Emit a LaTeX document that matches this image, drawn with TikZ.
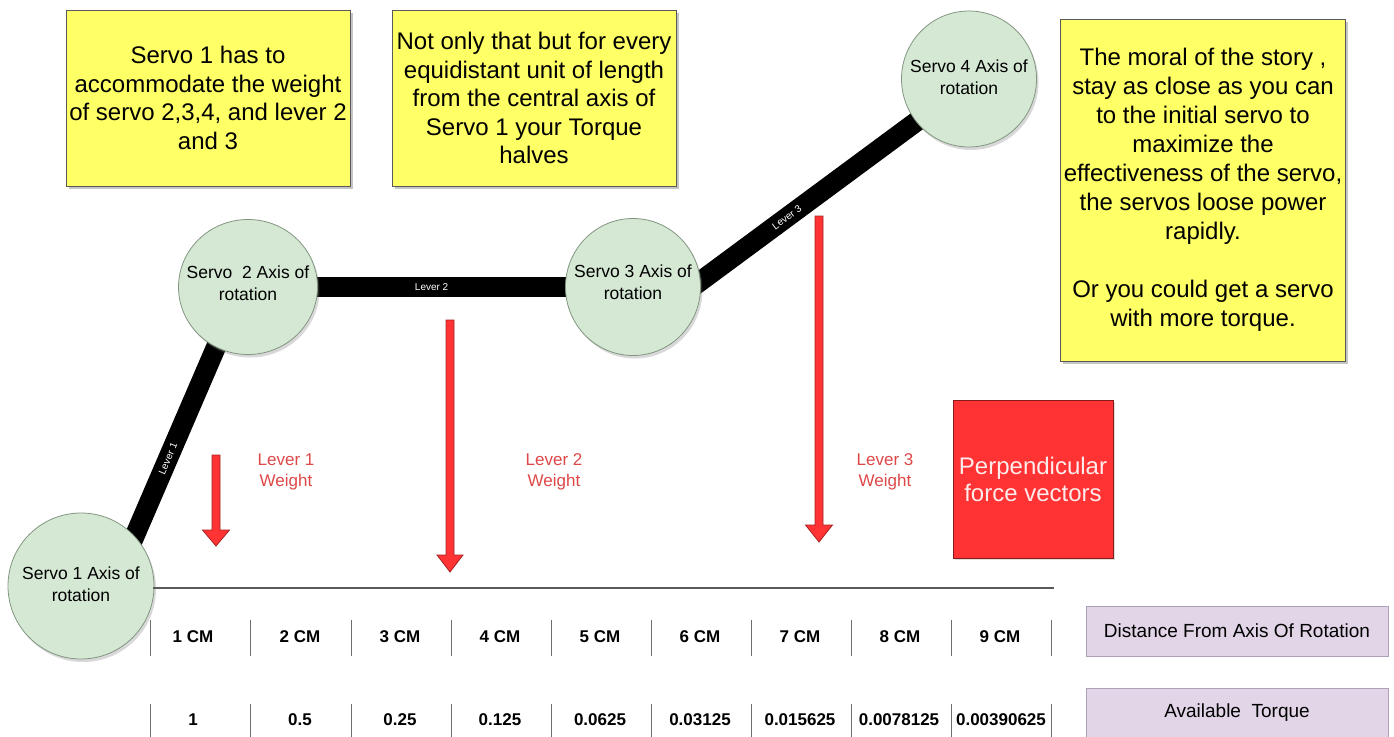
\documentclass[tikz,border=0pt]{standalone}
\usepackage{fontspec}
\setmainfont{Liberation Sans}
\usetikzlibrary{shapes.geometric,shadows}
\pgfdeclarelayer{bg}
\pgfsetlayers{bg,main}
\definecolor{notefill}{RGB}{255,255,102}
\definecolor{servofill}{RGB}{213,232,212}
\definecolor{servoedge}{RGB}{130,150,130}
\definecolor{vecfill}{RGB}{255,51,51}
\definecolor{vecedge}{RGB}{165,35,35}
\definecolor{lbltext}{RGB}{222,72,72}
\definecolor{tagfill}{RGB}{225,213,231}
\definecolor{tagedge}{RGB}{175,160,185}
\definecolor{septext}{RGB}{110,110,110}
\begin{document}
\begin{tikzpicture}[x=1pt,y=-1pt,
  notebox/.style={draw=black!65, fill=notefill, align=center, inner sep=0pt,
    font=\fontsize{24}{28.5}\selectfont,
    drop shadow={shadow xshift=2.5pt, shadow yshift=-2.5pt, opacity=0.45}},
  servo/.style={ellipse, draw=servoedge, line width=0.8pt, fill=servofill, inner sep=0pt,
    drop shadow={shadow xshift=2pt, shadow yshift=-3pt, opacity=0.3}},
  servotext/.style={align=center, inner sep=0pt, font=\fontsize{17.5}{21.5}\selectfont},
  lever/.style={line width=20pt, black, shorten <=-14pt, shorten >=-14pt},
  levertag/.style={sloped, text=white, font=\fontsize{10}{10}\selectfont, inner sep=1pt},
  vec/.style={fill=vecfill, draw=vecedge, line width=0.8pt},
  weightlbl/.style={text=lbltext, align=center, font=\fontsize{17}{20.5}\selectfont},
  vecbox/.style={fill=vecfill, draw=vecedge!80!black, line width=0.8pt, text=white!92!red,
    align=center, inner sep=0pt, font=\fontsize{24}{27}\selectfont,
    drop shadow={shadow xshift=1.5pt, shadow yshift=-1.5pt, opacity=0.25}},
  tagbox/.style={fill=tagfill, draw=tagedge, line width=0.8pt, inner sep=0pt,
    minimum width=302pt, minimum height=50pt, font=\fontsize{19}{21}\selectfont},
  cell/.style={font=\bfseries\fontsize{17}{19}\selectfont, inner sep=0pt},
  sepline/.style={draw=septext, line width=0.9pt},
  axisline/.style={draw=black!65, line width=1.2pt}
]
\useasboundingbox (0,0) rectangle (1394,736);
\begin{pgfonlayer}{bg}
  \fill[white] (0,0) rectangle (1394,736);
\end{pgfonlayer}

% yellow notes
\node[notebox, minimum width=284pt, minimum height=176pt] (n1) at (208,98)
  {Servo 1 has to\\accommodate the weight\\of servo 2,3,4, and lever 2\\and 3};
\node[notebox, minimum width=284pt, minimum height=176pt] (n2) at (534,98)
  {Not only that but for every\\equidistant unit of length\\from the central axis of\\Servo 1 your Torque\\halves};
\node[notebox, minimum width=285pt, minimum height=342pt, font=\fontsize{24}{29}\selectfont] (n3) at (1203,190)
  {The moral of the story ,\\stay as close as you can\\to the initial servo to\\maximize the\\effectiveness of the servo,\\the servos loose power\\rapidly.\\[29pt]Or you could get a servo\\with more torque.};

% servos
\node[servo, minimum width=146pt, minimum height=146pt] (s1) at (81,586) {};
\node[servo, minimum width=139pt, minimum height=135pt] (s2) at (248,287) {};
\node[servo, minimum width=135pt, minimum height=137pt] (s3) at (633,287) {};
\node[servo, minimum width=135pt, minimum height=136pt] (s4) at (969,79) {};
\node[servotext] (s1t) at (81,584) {Servo 1 Axis of\\rotation};
\node[servotext] (s2t) at (248,283) {Servo~ 2 Axis of\\rotation};
\node[servotext] (s3t) at (633,282) {Servo 3 Axis of\\rotation};
\node[servotext] (s4t) at (969,77) {Servo 4 Axis of\\rotation};

% levers (behind servos)
\begin{pgfonlayer}{bg}
  \draw[lever] (s1.43) -- node[levertag, pos=0.41] {Lever 1} (s2.242);
  \draw[lever] (s2.east) -- node[levertag, pos=0.46] {Lever 2} (s3.west);
  \draw[lever] (s3.5) -- node[levertag, pos=0.40] {Lever 3} (s4.219);
\end{pgfonlayer}

% force vectors
\filldraw[vec] (212,455) -- (220,455) -- (220,530) -- (229.5,530) -- (216,546)
  -- (202.5,530) -- (212,530) -- cycle;
\filldraw[vec] (446,320) -- (454,320) -- (454,555) -- (463,555) -- (450,572)
  -- (437,555) -- (446,555) -- cycle;
\filldraw[vec] (815,216) -- (823,216) -- (823,525) -- (832.5,525) -- (819,542)
  -- (805.5,525) -- (815,525) -- cycle;

\node[weightlbl] (w1) at (286,472) {Lever 1\\Weight};
\node[weightlbl] (w2) at (554,472) {Lever 2\\Weight};
\node[weightlbl] (w3) at (885,472) {Lever 3\\Weight};

\node[vecbox, minimum width=160pt, minimum height=158pt] (pv) at (1033,479)
  {Perpendicular\\force vectors};

% axis line
\coordinate (axL) at (153,588);
\coordinate (axR) at (1054,588);
\draw[axisline] (axL) -- (axR);

% table separators
\foreach \x in {150,250,351,451,551,651,751,851,951,1051} {
  \draw[sepline] (\x,620) -- (\x,656);
  \draw[sepline] (\x,704) -- (\x,738);
}
% row 1
\foreach \x/\t [count=\i] in {193/1 CM,300/2 CM,400/3 CM,500/4 CM,600/5 CM,700/6 CM,800/7 CM,900/8 CM,1000/9 CM}
  \node[cell] (d\i) at (\x,637) {\t};
% row 2
\foreach \x/\t [count=\i] in {193/1,300/0.5,400/0.25,500/0.125,600/0.0625,700/0.03125,800/0.015625,899/0.0078125,1001/0.00390625}
  \node[cell] (q\i) at (\x,720) {\t};

% row captions
\node[tagbox] (tdist) at (1237,631) {Distance From Axis Of Rotation};
\node[tagbox] (ttorq) at (1237,713) {Available~ Torque};
\end{tikzpicture}
\end{document}
